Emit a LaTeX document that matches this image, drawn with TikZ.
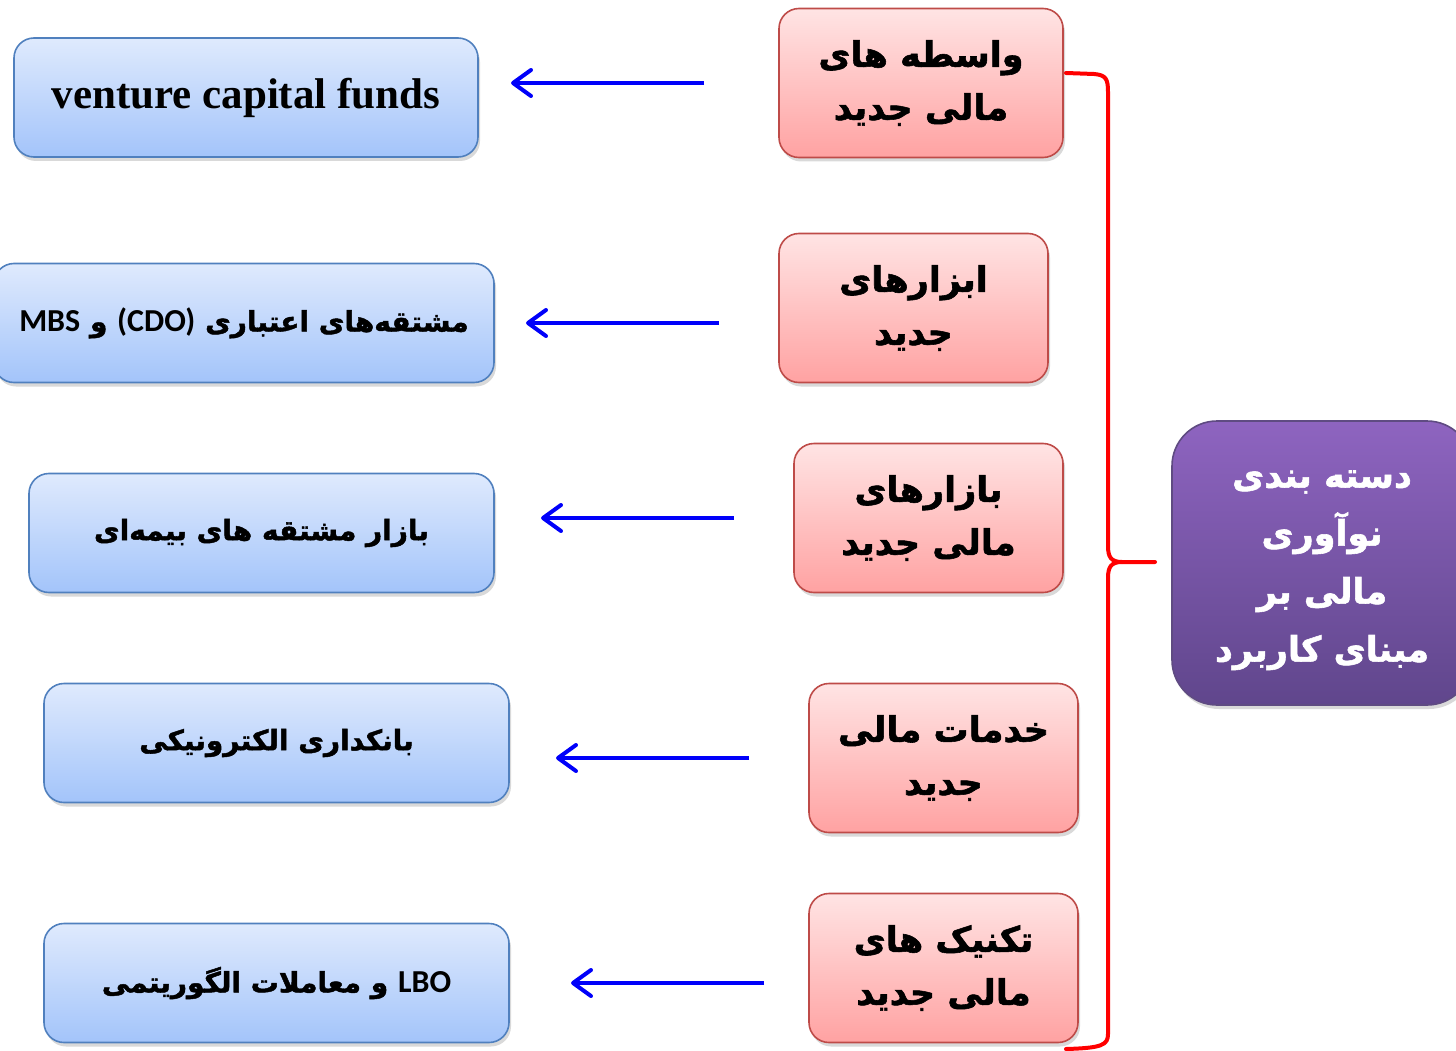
\documentclass[tikz,border=0pt]{standalone}
\usepackage{fontspec}
\setmainfont{Liberation Serif}
\newfontfamily\fa[Script=Arabic,BoldFeatures={FakeBold=1.6}]{DejaVu Sans}
\newfontfamily\lat{Carlito}
\TeXXeTstate=1
\usetikzlibrary{arrows.meta,shadows}
\definecolor{bluetop}{RGB}{223,234,253}
\definecolor{bluebot}{RGB}{163,196,250}
\definecolor{blueborder}{RGB}{80,128,190}
\definecolor{pinktop}{RGB}{255,228,228}
\definecolor{pinkbot}{RGB}{255,162,162}
\definecolor{pinkborder}{RGB}{190,75,72}
\definecolor{purtop}{RGB}{142,100,192}
\definecolor{purbot}{RGB}{96,70,140}
\definecolor{purborder}{RGB}{95,75,130}
\definecolor{arrblue}{RGB}{0,0,250}
\definecolor{bracered}{RGB}{255,0,0}
\begin{document}
\begin{tikzpicture}[x=1pt,y=-1pt,
  shad/.style={drop shadow={opacity=0.3,shadow xshift=2pt,shadow yshift=-4pt}},
  bluebox/.style={shad,draw=blueborder,line width=1.6pt,rounded corners=20pt,
    top color=bluetop,bottom color=bluebot,minimum height=119pt,inner sep=0pt},
  pinkbox/.style={shad,draw=pinkborder,line width=1.6pt,rounded corners=20pt,
    top color=pinktop,bottom color=pinkbot,minimum height=149pt,inner sep=0pt,
    align=center,font=\fa\bfseries\fontsize{35}{53}\selectfont},
  purbox/.style={shad,draw=purborder,line width=1.6pt,rounded corners=45pt,
    top color=purtop,bottom color=purbot,inner sep=0pt,text=white,
    align=center,font=\fa\bfseries\fontsize{35}{58}\selectfont},
  bluetext/.style={font=\fa\bfseries\fontsize{28}{36}\selectfont},
  arr/.style={draw=arrblue,line width=4pt,-{Straight Barb[length=18pt,width=26pt,round]}},
  brace/.style={draw=bracered,line width=4pt,line cap=round,line join=round}]
\useasboundingbox (0,0) rectangle (1456,1051);

% blue boxes
\node[bluebox,minimum width=464pt] (b1) at (246,97.5)
  {\raisebox{-7pt}{\fontsize{43}{48}\selectfont\bfseries venture capital funds}};
\node[bluebox,minimum width=500pt,bluetext] (b2) at (244,323)
  {\beginR مشتقه‌های اعتباری \beginL{\lat\bfseries\fontsize{32}{36}\selectfont (CDO)}\endL{} و \beginL{\lat\bfseries\fontsize{32}{36}\selectfont MBS}\endL\endR};
\node[bluebox,minimum width=465pt,bluetext] (b3) at (261.5,533)
  {\beginR بازار مشتقه های بیمه‌ای\endR};
\node[bluebox,minimum width=465pt,bluetext] (b4) at (276.5,743)
  {\beginR بانکداری الکترونیکی\endR};
\node[bluebox,minimum width=465pt,bluetext] (b5) at (276.5,983)
  {\beginR \beginL{\lat\bfseries\fontsize{32}{36}\selectfont LBO}\endL{} و معاملات الگوریتمی\endR};

% pink boxes
\node[pinkbox,minimum width=284pt] (p1) at (921,83)
  {\beginR واسطه های\endR\\\beginR مالی جدید\endR};
\node[pinkbox,minimum width=269pt] (p2) at (913.5,308)
  {\beginR ابزارهای\endR\\\beginR جدید\endR};
\node[pinkbox,minimum width=269pt] (p3) at (928.5,518)
  {\beginR بازارهای\endR\\\beginR مالی جدید\endR};
\node[pinkbox,minimum width=269pt] (p4) at (943.5,758)
  {\beginR خدمات مالی\endR\\\beginR جدید\endR};
\node[pinkbox,minimum width=269pt] (p5) at (943.5,968)
  {\beginR تکنیک های\endR\\\beginR مالی جدید\endR};

% purple box
\node[purbox,minimum width=300pt,minimum height=284pt] (c) at (1322,563)
  {\raisebox{-5pt}{\begin{tabular}{@{}c@{}}\beginR دسته بندی\endR\\\beginR نوآوری\endR\\\beginR مالی بر\endR\\\beginR مبنای کاربرد\endR\end{tabular}}};

% arrows
\coordinate (s1) at (704,83);  \coordinate (e1) at (511,83);
\coordinate (s2) at (719,323); \coordinate (e2) at (526,323);
\coordinate (s3) at (734,518); \coordinate (e3) at (541,518);
\coordinate (s4) at (749,758); \coordinate (e4) at (556,758);
\coordinate (s5) at (764,983); \coordinate (e5) at (571,983);
\foreach \i in {1,...,5} {\draw[arr] (s\i) -- (e\i);}

% brace
\coordinate (bt) at (1066,73);
\coordinate (bb) at (1066,1049);
\coordinate (tip) at (1155,562);
\draw[brace] (bt) -- (1094,74) .. controls (1106,75) and (1108,79) .. (1108,92)
  -- (1108,546) .. controls (1108,557) and (1111,562) .. (1122,562) -- (tip);
\draw[brace] (1122,562) .. controls (1111,562) and (1108,567) .. (1108,578)
  -- (1108,1034) .. controls (1108,1045) and (1102,1048) .. (bb);
\end{tikzpicture}
\end{document}
